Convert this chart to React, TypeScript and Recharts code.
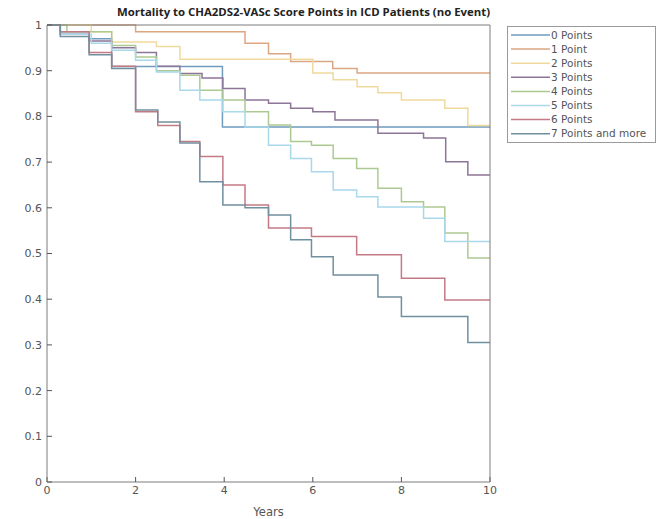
import { LineChart, Line, XAxis, YAxis } from 'recharts'

type Pair = [number, number]

const yearTicks = [0, 2, 4, 6, 8, 10]
const survivalTicks = [0, 0.1, 0.2, 0.3, 0.4, 0.5, 0.6, 0.7, 0.8, 0.9, 1]

// Kaplan-Meier steps as [years, survival]; each value holds until the next change
const score0: Pair[] = [[0, 1], [0.3, 0.985], [0.95, 0.97], [1.46, 0.909], [3.96, 0.777], [10, 0.777]]
const score1: Pair[] = [[0, 1], [2.0, 0.985], [4.47, 0.96], [5.0, 0.937], [5.5, 0.92], [6.45, 0.905], [7.0, 0.895], [10, 0.895]]
const score2: Pair[] = [
  [0, 1], [1.0, 0.985], [1.46, 0.963], [2.47, 0.953], [3.0, 0.925], [6.0, 0.895], [6.46, 0.88],
  [7.0, 0.865], [7.47, 0.852], [8.0, 0.836], [8.98, 0.818], [9.5, 0.78], [10, 0.78],
]
const score3: Pair[] = [
  [0, 1], [0.3, 0.98], [0.95, 0.965], [1.46, 0.95], [2.0, 0.94], [2.47, 0.91], [3.0, 0.894],
  [3.5, 0.884], [3.97, 0.861], [4.47, 0.836], [5.0, 0.829], [5.5, 0.818], [6.0, 0.81],
  [6.5, 0.792], [7.47, 0.763], [8.5, 0.753], [9.0, 0.701], [9.5, 0.672], [10, 0.672],
]
const score4: Pair[] = [
  [0, 1], [0.45, 0.985], [1.46, 0.955], [2.0, 0.93], [2.47, 0.9], [3.0, 0.89], [3.45, 0.857],
  [3.97, 0.836], [4.47, 0.81], [5.0, 0.781], [5.5, 0.745], [5.97, 0.737], [6.46, 0.708],
  [6.99, 0.686], [7.47, 0.643], [8.0, 0.613], [8.5, 0.602], [8.98, 0.545], [9.5, 0.49], [10, 0.49],
]
const score5: Pair[] = [
  [0, 1], [0.3, 0.98], [1.0, 0.96], [1.46, 0.945], [2.0, 0.923], [2.47, 0.897], [3.0, 0.857],
  [3.45, 0.836], [3.97, 0.81], [4.47, 0.777], [5.0, 0.737], [5.5, 0.708], [5.97, 0.679],
  [6.46, 0.639], [6.99, 0.624], [7.47, 0.602], [8.5, 0.577], [8.98, 0.526], [10, 0.526],
]
const score6: Pair[] = [
  [0, 1], [0.3, 0.985], [0.95, 0.94], [1.46, 0.91], [2.0, 0.81], [2.5, 0.78], [3.0, 0.745],
  [3.45, 0.712], [3.97, 0.65], [4.47, 0.606], [5.0, 0.556], [5.97, 0.537], [6.99, 0.497],
  [8.0, 0.446], [8.98, 0.398], [10, 0.398],
]
const score7: Pair[] = [
  [0, 1], [0.3, 0.975], [0.95, 0.935], [1.46, 0.905], [2.0, 0.814], [2.5, 0.788], [3.0, 0.742],
  [3.45, 0.657], [3.97, 0.606], [4.47, 0.6], [5.0, 0.584], [5.5, 0.53], [5.97, 0.493],
  [6.46, 0.453], [7.47, 0.405], [8.0, 0.362], [9.5, 0.305], [10, 0.305],
]

const seriesNames = ['0 Points', '1 Point', '2 Points', '3 Points', '4 Points', '5 Points', '6 Points', '7 Points and more']
const seriesSteps = [score0, score1, score2, score3, score4, score5, score6, score7]
const seriesColors = ['#6f9bbf', '#dca683', '#efda9c', '#8d7598', '#adc993', '#a8d8ea', '#c47a85', '#71909f']

const AXIS = '#7d7d7d'
const LABEL = '#555'
const FONT = '"DejaVu Sans", sans-serif'

function toPoints(pairs: Pair[]) {
  return pairs.map(([t, v]) => ({ t, v }))
}

function formatSurvival(v: number) {
  return String(+v.toFixed(1))
}

function LegendBox() {
  return (
    <svg width={150} height={118} style={{ position: 'absolute', left: 507, top: 26 }}>
      <rect x={0.5} y={0.5} width={148} height={116} fill="#fff" stroke="#9a9a9a" />
      {seriesNames.map((name, i) => (
        <g key={name}>
          <line x1={4} x2={43} y1={9 + i * 14.1} y2={9 + i * 14.1} stroke={seriesColors[i]} strokeWidth={1.5} />
          <text x={44} y={9 + i * 14.1} dy="0.35em" fontSize={10.5} fill={LABEL} fontFamily={FONT}>
            {name}
          </text>
        </g>
      ))}
    </svg>
  )
}

export default function App() {
  return (
    <div style={{ position: 'absolute', left: 0, top: 0, width: 668, height: 519, background: '#fff' }}>
      <LineChart width={668} height={519} margin={{ top: 24, right: 177, bottom: 0, left: 17 }}>
        <XAxis
          xAxisId="bottom"
          dataKey="t"
          type="number"
          domain={[0, 10]}
          ticks={yearTicks}
          height={37}
          stroke={AXIS}
          tickLine={{ stroke: '#555' }}
          tickSize={-5}
          tickMargin={9}
          tick={{ fontSize: 11, fill: LABEL, fontFamily: FONT }}
          label={{ value: 'Years', position: 'insideBottom', offset: 3, fontSize: 11.5, fill: LABEL, fontFamily: FONT }}
        />
        <XAxis
          xAxisId="top"
          orientation="top"
          dataKey="t"
          type="number"
          domain={[0, 10]}
          ticks={yearTicks}
          height={1}
          stroke={AXIS}
          tickLine={{ stroke: '#555' }}
          tickSize={-5}
          tick={false}
        />
        <YAxis
          yAxisId="left"
          type="number"
          domain={[0, 1]}
          ticks={survivalTicks}
          width={30}
          stroke={AXIS}
          tickLine={{ stroke: '#555' }}
          tickSize={-5}
          tickMargin={10}
          tickFormatter={formatSurvival}
          tick={{ fontSize: 11, fill: LABEL, fontFamily: FONT }}
        />
        <YAxis
          yAxisId="right"
          orientation="right"
          type="number"
          domain={[0, 1]}
          ticks={survivalTicks}
          width={1}
          stroke={AXIS}
          tickLine={{ stroke: '#555' }}
          tickSize={-5}
          tick={false}
        />
        {seriesSteps.map((steps, i) => (
          <Line
            key={seriesNames[i]}
            xAxisId="bottom"
            yAxisId="left"
            data={toPoints(steps)}
            dataKey="v"
            name={seriesNames[i]}
            type="stepAfter"
            stroke={seriesColors[i]}
            strokeWidth={1.5}
            dot={false}
            isAnimationActive={false}
          />
        ))}
      </LineChart>
      <svg width={668} height={24} style={{ position: 'absolute', left: 0, top: 0 }}>
        <text x={117} y={16} textLength={373} lengthAdjust="spacingAndGlyphs" fontSize={10.5} fontWeight="bold" fill="#222" fontFamily='"Open Sans", sans-serif'>
          Mortality to CHA2DS2-VASc Score Points in ICD Patients (no Event)
        </text>
      </svg>
      <LegendBox />
    </div>
  )
}
